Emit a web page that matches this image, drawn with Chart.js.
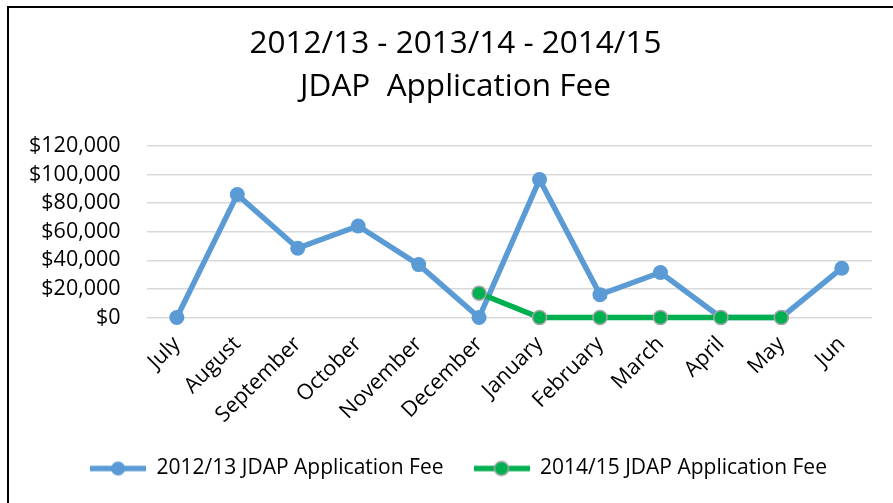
<!DOCTYPE html>
<html>
<head>
<meta charset="utf-8">
<script src="https://cdn.jsdelivr.net/npm/chart.js@4"></script>
<style>
  html, body { margin: 0; padding: 0; background: #fff; }
  #wrap { position: relative; width: 893px; height: 503px; }
  #frame { position: absolute; left: 7px; top: 6px; right: -4px; bottom: -4px;
           border-left: 2px solid #000; border-top: 2px solid #000; pointer-events: none; }
  canvas { position: absolute; left: 0; top: 0; }
</style>
</head>
<body>
<div id="wrap">
  <canvas id="c" width="893" height="503"></canvas>
  <div id="frame"></div>
</div>
<script>
const titleLines = ['2012/13 - 2013/14 - 2014/15', 'JDAP  Application Fee'];
const months = ['July','August','September','October','November','December','January','February','March','April','May','Jun'];
const fees201213 = [0, 86000, 48500, 64000, 37000, 0, 96500, 16000, 31500, 0, 0, 34500];
const fees201415 = [null, null, null, null, null, 17000, 0, 0, 0, 0, 0, null];
const seriesNames = ['2012/13 JDAP Application Fee', '2014/15 JDAP Application Fee'];
const yTicks = [0, 20000, 40000, 60000, 80000, 100000, 120000];

const BLUE = '#5B9BD5', GREEN = '#00B050', GREY = '#A5A5A5';
const FONT = "'Open Sans', sans-serif";

function makeIcon(color, border) {
  const cv = document.createElement('canvas');
  cv.width = 56; cv.height = 18;
  const g = cv.getContext('2d');
  g.strokeStyle = color; g.lineWidth = 5.5; g.lineCap = 'butt';
  g.beginPath(); g.moveTo(0, 9); g.lineTo(56, 9); g.stroke();
  g.beginPath(); g.arc(28, 9, 7, 0, Math.PI * 2);
  g.fillStyle = color; g.fill();
  if (border) { g.lineWidth = 1.5; g.strokeStyle = border; g.stroke(); }
  return cv;
}
const icons = [makeIcon(BLUE, null), makeIcon(GREEN, GREY)];

const shiftBoxes = {
  id: 'shiftBoxes',
  afterLayout(chart) {
    const l = chart.legend;
    if (l) { l.left += 21; l.right += 21; l.top -= 6; l.bottom -= 6; }
    const t = chart.titleBlock;
    if (t) { t.left += 18; t.right += 18; }
  }
};

new Chart(document.getElementById('c'), {
  type: 'line',
  data: {
    labels: months,
    datasets: [
      { label: seriesNames[0], data: fees201213, borderColor: BLUE, backgroundColor: BLUE,
        borderWidth: 5.5, pointRadius: 7.5, pointBackgroundColor: BLUE, pointBorderColor: BLUE,
        pointBorderWidth: 0, tension: 0, order: 1, clip: false },
      { label: seriesNames[1], data: fees201415, borderColor: GREEN, backgroundColor: GREEN,
        borderWidth: 5.5, pointRadius: 7, pointBackgroundColor: GREEN, pointBorderColor: GREY,
        pointBorderWidth: 1.5, tension: 0, order: 0, clip: false }
    ]
  },
  plugins: [shiftBoxes],
  options: {
    responsive: false,
    animation: false,
    layout: { padding: { left: 3, right: 21, top: 0, bottom: 8 } },
    scales: {
      x: {
        offset: true,
        grid: { display: false },
        border: { display: false },
        ticks: { color: '#000', font: { family: FONT, size: 21.5 }, minRotation: 45, maxRotation: 45, padding: 6, autoSkip: false }
      },
      y: {
        min: 0, max: 120000,
        afterBuildTicks: (axis) => { axis.ticks = yTicks.map(v => ({ value: v })); },
        grid: { color: '#D9D9D9', lineWidth: 1.5, drawTicks: false },
        border: { display: false },
        ticks: { color: '#000', font: { family: FONT, size: 21.5 }, padding: 26, autoSkip: false,
                 callback: (v) => '$' + Number(v).toLocaleString('en-US') }
      }
    },
    plugins: {
      title: {
        display: true, text: titleLines, color: '#000',
        font: { family: FONT, size: 31.5, weight: 'normal', lineHeight: 1.365 },
        padding: { top: 23, bottom: 37 }
      },
      legend: {
        position: 'bottom',
        labels: {
          color: '#000', font: { family: FONT, size: 21 },
          usePointStyle: true, pointStyleWidth: 56, boxHeight: 18, padding: 30,
          sort: (a, b) => a.datasetIndex - b.datasetIndex,
          generateLabels: (chart) => {
            const items = Chart.defaults.plugins.legend.labels.generateLabels(chart);
            items.forEach(it => { it.pointStyle = icons[it.datasetIndex]; });
            return items;
          }
        }
      },
      tooltip: { enabled: false }
    }
  }
});
</script>
</body>
</html>
